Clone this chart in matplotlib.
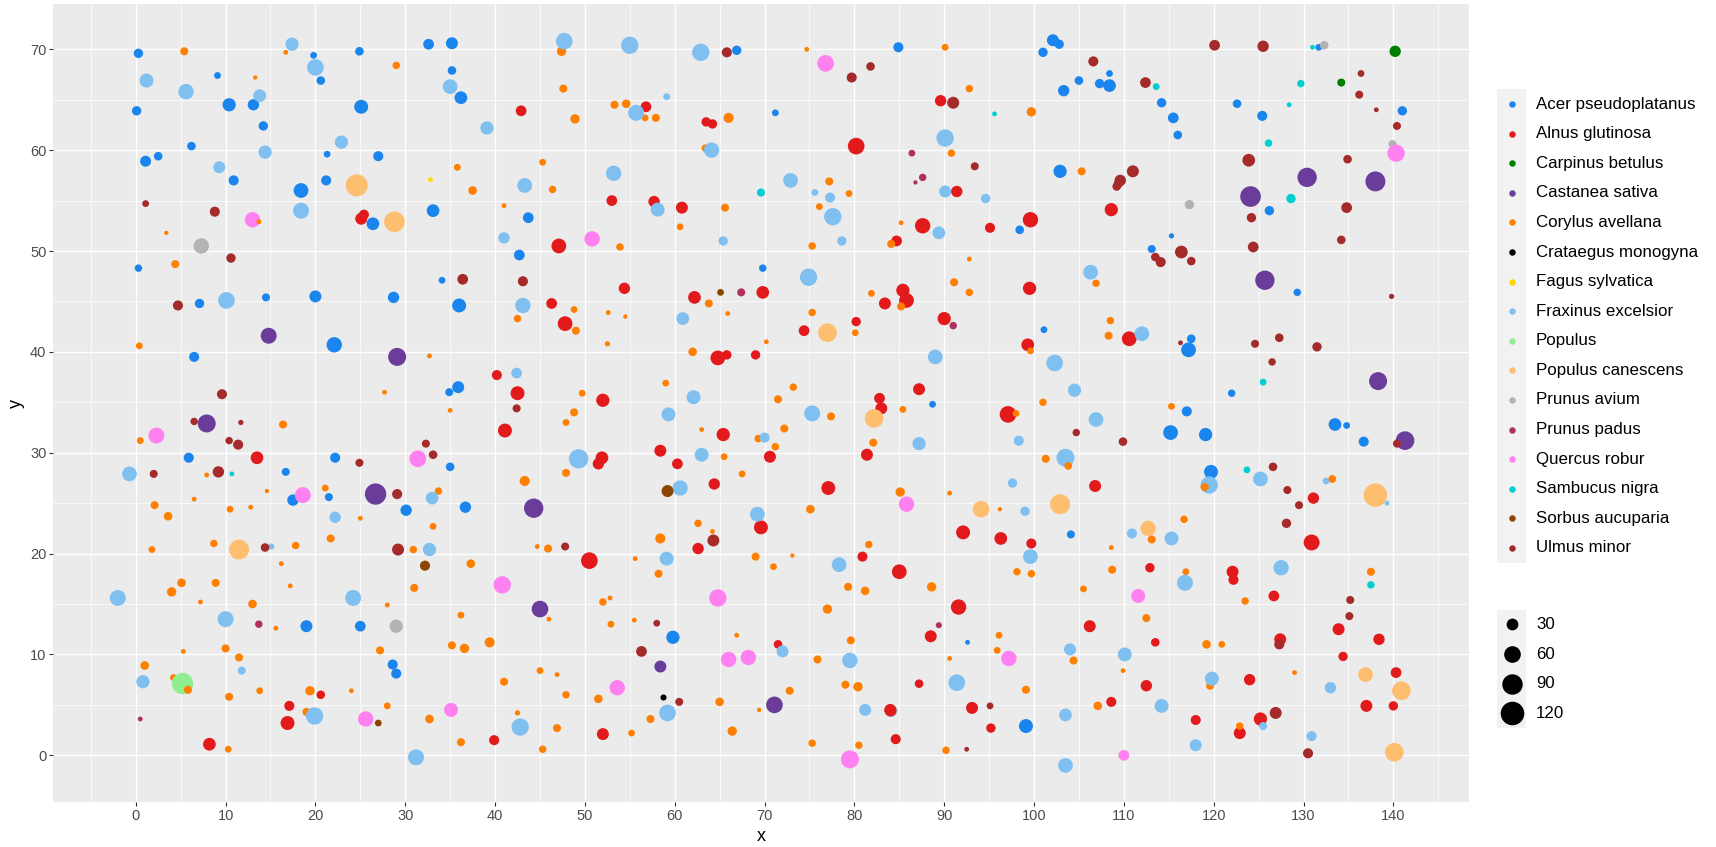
import matplotlib
matplotlib.use("Agg")
import matplotlib.pyplot as plt
from matplotlib.patches import Rectangle
import numpy as np

plt.rcParams['font.family'] = ['Liberation Sans', 'DejaVu Sans']

# each tree is (x, y, dbh)
acer = [(0.3,69.6,19),(9.1,67.4,10),(10.4,64.5,38),(13.1,64.5,28),(14.2,62.4,19),(0.1,63.9,19),(6.2,60.4,16),
        (2.5,59.4,16),(1.1,58.9,26),(10.9,57.0,22),(19.8,69.4,10),(20.6,66.9,16),(24.9,69.8,16),(25.1,64.3,42),
        (32.6,70.5,25),(35.2,70.6,31),(35.2,67.9,16),(36.2,65.2,35),(21.3,59.6,10),(27.0,59.4,22),(21.2,57.0,22),
        (18.4,56.0,47),(33.1,54.0,35),(0.3,48.3,12),(26.4,52.7,35),(42.7,49.6,25),(34.1,47.1,10),(7.1,44.8,19),
        (14.5,45.4,14),(20.0,45.5,31),(28.7,45.4,28),(36.0,44.6,42),(22.1,40.7,51),(6.5,39.5,22),(35.9,36.5,31),
        (34.9,36.0,14),(5.9,29.5,22),(22.2,29.5,22),(16.7,28.1,14),(35.0,28.6,16),(17.5,25.3,28),(21.5,25.6,14),
        (30.1,24.3,28),(36.7,24.6,28),(19.0,12.8,31),(25.0,12.8,25),(28.6,9.0,22),(29.0,8.1,22),(84.9,70.2,22),
        (66.9,69.9,19),(71.2,63.7,10),(43.7,53.3,25),(69.8,48.3,12),(88.7,34.8,10),(59.8,11.7,38),(92.6,11.2,5),
        (102.1,70.9,31),(102.8,70.5,19),(101.0,69.7,19),(108.4,67.6,10),(105.0,66.9,16),(107.3,66.6,19),
        (108.4,66.4,35),(103.3,65.9,28),(114.2,64.7,19),(115.5,63.2,25),(116.0,61.5,16),(122.6,64.6,16),
        (125.4,63.4,22),(131.7,70.2,10),(141.0,63.9,19),(102.9,57.9,38),(126.2,54.0,19),(98.4,52.1,16),
        (115.3,51.5,6),(113.1,50.2,14),(129.3,45.9,12),(101.1,42.2,10),(117.5,41.3,16),(117.2,40.2,47),
        (122.0,35.9,12),(117.0,34.1,22),(115.2,32.0,47),(119.1,31.8,38),(133.5,32.8,35),(134.8,32.7,10),
        (136.7,31.1,22),(119.7,28.1,42),(104.1,21.9,14),(99.1,2.9,42)]

alnus = [(25.1,53.2,31),(25.4,53.6,22),(42.9,63.9,25),(47.1,50.5,47),(56.8,64.3,25),(63.5,62.8,19),(64.2,62.6,19),
         (80.2,60.4,60),(89.6,64.9,28),(53.0,55.0,25),(57.7,54.9,28),(60.8,54.3,31),(91.4,55.9,28),(87.6,52.5,51),
         (84.7,51.0,25),(95.1,52.3,22),(99.6,53.1,51),(108.6,54.1,38),(54.4,46.3,28),(46.3,44.8,25),(47.8,42.8,47),
         (62.2,45.4,35),(69.8,45.9,35),(85.4,46.1,38),(85.8,45.1,47),(83.4,44.8,31),(90.0,43.3,38),(80.2,43.0,19),
         (74.4,42.1,25),(64.8,39.4,47),(65.8,39.7,19),(69.0,39.7,19),(52.0,35.2,38),(87.2,36.3,31),(82.8,35.4,25),
         (83.0,34.4,31),(65.4,31.8,38),(58.4,30.2,31),(60.3,28.9,25),(51.9,29.5,35),(51.5,28.9,28),(70.6,29.6,31),
         (81.4,29.8,31),(64.4,26.9,28),(77.1,26.5,42),(69.6,22.6,42),(92.1,22.1,42),(62.6,20.5,28),(41.1,32.2,42),
         (42.5,35.9,42),(40.2,37.7,22),(50.5,19.3,60),(80.9,19.7,22),(85.0,18.2,47),(91.6,14.7,51),(88.5,11.8,31),
         (71.5,11.0,16),(87.2,7.1,16),(93.1,4.7,31),(84.0,4.5,31),(84.6,1.6,22),(52.0,2.1,31),(99.5,46.3,38),
         (99.3,40.7,35),(110.6,41.3,47),(97.1,33.8,60),(106.8,26.7,31),(131.1,25.5,28),(96.3,21.5,35),(99.7,21.0,22),
         (130.9,21.1,55),(112.9,18.6,19),(122.1,18.2,31),(122.2,17.4,22),(126.7,15.8,25),(106.2,12.8,31),
         (113.5,11.2,16),(127.4,11.5,31),(133.9,12.5,31),(138.4,11.5,28),(134.4,9.8,19),(140.3,8.2,25),(124.0,7.5,28),
         (112.5,6.9,28),(108.6,5.3,22),(137.0,4.9,31),(140.0,4.9,19),(125.2,3.6,38),(122.9,2.2,31),(118.0,3.5,22),
         (95.2,2.7,19),(8.2,1.1,35),(16.9,3.2,42),(17.1,4.9,22),(20.6,6.0,16),(39.9,1.5,22),(13.5,29.5,35)]

carpinus = [(140.2,69.8,28),(134.2,66.7,14)]

castanea = [(14.8,41.6,55),(29.1,39.5,70),(7.9,32.9,70),(26.7,25.9,98),(44.3,24.5,81),(45.0,14.5,60),(58.4,8.8,31),
            (71.1,5.0,60),(124.1,55.4,92),(130.4,57.3,81),(138.0,56.9,86),(125.7,47.1,81),(138.3,37.1,70),(141.3,31.2,75)]

corylus = [(5.4,69.8,14),(16.7,69.7,5),(13.3,67.2,4),(29.0,68.4,12),(35.8,58.3,10),(37.5,56.0,16),(41.0,54.5,5),
           (3.4,51.8,4),(4.4,48.7,14),(47.4,69.8,19),(47.6,66.1,14),(48.9,63.1,19),(45.3,58.8,10),(46.4,56.1,12),
           (53.3,64.5,14),(54.6,64.6,16),(56.7,63.2,10),(57.9,63.2,14),(66.0,63.2,22),(63.4,60.2,12),(53.9,50.4,12),
           (60.6,52.4,10),(65.6,54.3,14),(74.7,70.0,5),(90.1,70.2,10),(92.8,66.1,12),(90.8,59.7,12),(77.2,56.9,14),
           (79.4,55.7,10),(76.1,54.4,10),(75.3,50.5,12),(85.2,52.8,5),(84.1,50.7,14),(92.8,49.2,5),(91.1,46.9,14),
           (99.7,63.8,19),(105.3,57.9,14),(48.8,44.2,10),(42.5,43.3,12),(49.0,42.1,14),(52.6,43.9,5),(54.5,43.5,4),
           (52.5,40.8,6),(63.8,44.8,14),(65.9,43.8,5),(75.3,43.9,12),(81.9,45.8,10),(85.2,44.5,14),(92.8,45.9,12),
           (80.1,41.9,10),(70.2,41.0,5),(62.0,40.0,16),(59.0,36.9,10),(49.7,35.9,10),(48.8,34.0,14),(47.9,33.0,10),
           (73.2,36.5,12),(71.5,35.3,14),(77.4,33.6,14),(63.0,32.3,5),(72.2,32.4,14),(69.3,31.4,12),(71.2,30.6,12),
           (65.5,29.6,10),(85.4,34.3,10),(82.1,31.0,14),(47.9,28.0,14),(43.3,27.2,22),(67.5,27.9,10),(85.1,26.1,19),
           (90.6,26.0,5),(75.1,24.4,16),(62.6,23.0,12),(64.2,22.2,5),(58.4,21.5,22),(44.7,20.7,5),(45.9,20.5,14),
           (81.6,20.9,12),(55.6,19.5,5),(69.0,19.7,14),(71.0,18.7,10),(73.1,19.8,4),(58.2,18.0,14),(79.3,16.7,14),
           (81.2,16.3,16),(88.6,16.7,19),(52.0,15.2,12),(52.8,15.6,5),(77.0,14.5,19),(46.0,13.5,5),(52.9,13.0,10),
           (55.5,13.4,5),(79.6,11.4,14),(66.9,11.9,5),(75.9,9.5,14),(90.6,9.6,5),(45.0,8.4,10),(46.9,8.0,5),
           (47.9,6.0,12),(51.5,5.6,16),(72.8,6.4,14),(79.0,7.0,14),(80.4,6.8,19),(65.0,5.3,16),(69.4,4.5,4),
           (42.5,4.2,6),(57.3,3.6,14),(46.9,2.7,14),(55.2,2.2,10),(66.4,2.4,19),(45.3,0.6,12),(75.3,1.2,12),
           (80.5,1.0,12),(90.2,0.5,12),(106.9,46.8,12),(108.5,43.1,12),(108.3,41.6,14),(99.6,40.1,10),(101.0,35.0,12),
           (98.0,33.9,10),(115.3,34.6,10),(101.3,29.4,14),(103.8,28.7,12),(119.0,26.6,14),(133.2,27.4,12),(96.2,24.4,4),
           (116.7,23.4,12),(113.1,21.4,14),(108.6,20.6,5),(98.1,18.2,12),(99.7,18.0,12),(108.7,18.4,14),(116.9,18.2,10),
           (105.5,16.5,10),(123.5,15.3,12),(137.5,18.2,14),(112.5,13.6,14),(119.2,11.0,16),(120.9,11.0,10),(96.1,11.9,10),
           (95.9,10.4,10),(104.4,9.4,14),(109.9,8.4,5),(129.0,8.2,5),(119.6,6.9,14),(99.1,6.5,14),(107.1,4.9,16),
           (122.9,2.9,12),(0.4,40.6,10),(16.4,32.8,14),(27.7,36.0,5),(32.7,39.6,5),(35.0,34.2,5),(0.5,31.2,10),
           (7.9,27.8,5),(21.1,26.5,10),(14.6,26.2,4),(6.5,25.4,5),(2.1,24.8,14),(3.6,23.7,16),(10.5,24.4,10),
           (12.8,24.6,5),(25.0,23.5,5),(33.7,26.2,12),(33.1,22.7,10),(8.7,21.0,12),(17.8,20.8,12),(21.7,21.5,14),
           (1.8,20.4,10),(30.9,20.4,12),(16.2,19.0,5),(37.3,19.0,16),(5.1,17.1,16),(4.0,16.2,19),(8.9,17.1,14),
           (17.2,16.8,5),(7.2,15.2,5),(13.0,15.0,16),(31.0,16.6,14),(28.0,14.9,5),(36.2,13.9,10),(15.6,12.6,5),
           (5.3,10.3,5),(10.0,10.6,14),(11.5,9.7,14),(27.2,10.4,14),(35.2,10.9,14),(36.6,10.6,19),(39.4,11.2,22),
           (1.0,8.9,16),(4.2,7.7,10),(5.8,6.5,14),(13.8,6.4,10),(10.4,5.8,14),(19.4,6.4,19),(24.0,6.4,5),(28.0,4.9,10),
           (41.0,7.3,14),(19.0,4.3,14),(32.7,3.6,16),(36.2,1.3,14),(10.3,0.6,10),(13.7,52.9,5)]

crataegus = [(58.7,5.8,8)]
fagus = [(32.8,57.1,5)]

fraxinus = [(17.4,70.5,38),(20.0,68.2,60),(1.2,66.9,42),(5.6,65.8,51),(13.8,65.4,35),(35.0,66.3,47),(39.1,62.2,38),
            (22.9,60.8,38),(14.4,59.8,38),(9.3,58.3,31),(18.4,54.0,55),(41.0,51.3,28),(43.3,56.5,47),(47.7,70.8,60),
            (55.0,70.4,65),(62.9,69.7,65),(55.7,63.7,55),(59.1,65.3,10),(64.1,60.0,51),(53.2,57.7,51),(58.1,54.1,42),
            (65.4,51.0,19),(72.9,57.0,47),(75.6,55.8,10),(77.3,55.3,22),(77.6,53.4,65),(78.6,51.0,19),(90.1,61.2,65),
            (90.1,55.9,31),(89.4,51.8,35),(94.6,55.2,19),(74.9,47.4,65),(10.1,45.1,60),(-0.7,27.9,47),(43.1,44.6,51),
            (42.4,37.9,25),(33.0,25.5,35),(22.2,23.6,28),(15.1,20.7,8),(60.9,43.3,35),(62.1,35.5,42),(59.3,33.8,42),
            (63.0,29.8,42),(49.3,29.4,81),(60.6,26.5,51),(70.0,31.5,22),(75.3,33.9,55),(89.0,39.5,47),(87.2,30.9,38),
            (69.2,23.9,47),(59.1,19.5,42),(78.3,18.9,47),(72.0,10.3,31),(79.5,9.4,51),(91.4,7.2,60),(81.2,4.5,31),
            (84.1,4.4,31),(59.2,4.2,60),(42.8,2.8,65),(106.3,47.9,47),(112.0,41.8,47),(102.3,38.9,60),(104.5,36.2,38),
            (106.9,33.3,47),(98.3,31.2,22),(103.5,29.5,70),(119.5,26.8,65),(125.2,27.4,47),(132.5,27.2,10),(97.6,27.0,19),
            (99.0,24.2,19),(139.3,25.0,5),(110.9,22.0,22),(115.3,21.5,42),(99.6,19.7,47),(116.8,17.1,55),(127.5,18.6,51),
            (104.0,10.5,31),(110.1,10.0,42),(119.8,7.6,42),(133.0,6.7,28),(114.2,4.9,42),(103.5,4.0,35),(118.0,1.0,31),
            (125.5,2.9,14),(130.9,1.9,22),(103.5,-1.0,47),(-2.0,15.6,55),(24.2,15.6,55),(10.0,13.5,55),(32.7,20.4,38),
            (11.8,8.4,14),(0.8,7.3,38),(19.9,3.9,65),(31.2,-0.2,55)]

populus = [(5.2,7.2,98)]

canescens = [(24.6,56.5,105),(28.8,52.9,92),(11.5,20.4,86),(77.0,41.9,75),(82.2,33.4,75),(94.1,24.4,60),(102.9,24.9,86),
             (112.7,22.5,51),(138.0,25.8,118),(136.9,8.0,47),(140.9,6.4,75),(140.1,0.3,75)]

avium = [(7.3,50.5,51),(29.0,12.8,38),(117.3,54.6,19),(132.3,70.4,16),(139.9,60.6,14)]

padus = [(13.7,13.0,12),(0.5,3.6,5),(86.4,59.7,10),(87.6,57.3,12),(86.8,56.8,4),(67.4,45.9,14),(91.0,42.6,12),(89.4,12.9,8)]

quercus = [(13.0,53.1,51),(2.3,31.7,55),(31.4,29.4,60),(18.6,25.8,55),(40.8,16.9,65),(25.6,3.6,51),(35.1,4.5,42),
           (50.8,51.2,51),(76.8,68.6,60),(85.8,24.9,51),(64.8,15.6,65),(66.0,9.5,51),(68.2,9.7,51),(53.6,6.7,51),
           (79.5,-0.4,70),(140.3,59.7,65),(111.6,15.8,42),(97.2,9.6,51),(110.0,0.0,25)]

sambucus = [(10.7,27.9,5),(69.6,55.8,14),(95.6,63.6,5),(113.6,66.3,10),(129.7,66.6,12),(131.0,70.2,5),(128.4,64.5,5),
            (126.1,60.7,12),(128.6,55.2,19),(125.5,37.0,10),(123.7,28.3,10),(137.5,16.9,12)]

sorbus = [(65.1,45.9,10),(59.2,26.2,31),(32.2,18.8,22),(27.0,3.2,10)]

ulmus = [(1.1,54.7,10),(8.8,53.9,22),(10.6,49.3,19),(36.4,47.2,25),(4.7,44.6,22),(9.6,35.8,22),(6.5,33.1,12),(11.7,33.0,6),
         (10.4,31.2,12),(11.4,30.8,22),(24.9,29.0,14),(32.3,30.9,14),(33.1,29.8,16),(29.1,25.9,22),(2.0,27.9,14),(9.2,28.1,28),
         (42.4,34.4,14),(14.4,20.6,16),(29.2,20.4,31),(65.8,69.7,22),(79.7,67.2,22),(81.8,68.3,16),(91.0,64.7,31),(93.4,58.4,14),
         (43.1,47.0,22),(64.3,21.3,31),(47.8,20.7,14),(56.3,10.3,25),(58.0,13.1,10),(60.5,5.3,14),(92.5,0.6,5),(106.6,68.8,22),
         (112.4,66.7,25),(120.1,70.4,25),(125.5,70.3,28),(136.4,67.6,10),(136.2,65.5,14),(138.1,64.0,5),(140.4,62.4,14),
         (134.9,59.1,16),(123.9,59.0,35),(111.0,57.9,31),(109.6,57.0,28),(109.4,56.7,19),(109.2,56.4,16),(134.8,54.3,25),
         (124.2,53.3,19),(134.2,51.1,16),(124.4,50.4,25),(116.4,49.9,35),(113.5,49.4,16),(114.1,48.9,22),(117.5,49.0,16),
         (139.8,45.5,6),(127.3,41.4,16),(124.6,40.8,14),(131.5,40.5,19),(116.3,40.9,5),(126.5,39.0,12),(104.7,32.0,12),
         (109.9,31.1,16),(140.4,30.9,14),(126.6,28.6,16),(128.2,26.3,14),(129.5,24.8,14),(128.1,23.0,19),(135.2,15.4,14),
         (135.1,13.8,14),(127.3,11.0,22),(126.9,4.2,31),(130.5,0.2,22),(95.1,4.9,10)]

species = ["Acer pseudoplatanus", "Alnus glutinosa", "Carpinus betulus", "Castanea sativa", "Corylus avellana",
           "Crataegus monogyna", "Fagus sylvatica", "Fraxinus excelsior", "Populus", "Populus canescens",
           "Prunus avium", "Prunus padus", "Quercus robur", "Sambucus nigra", "Sorbus aucuparia", "Ulmus minor"]
trees = [acer, alnus, carpinus, castanea, corylus, crataegus, fagus, fraxinus, populus, canescens,
         avium, padus, quercus, sambucus, sorbus, ulmus]
colors = ["#1a85ed", "#e31a1c", "#008000", "#6a3d9a", "#ff7f00", "#000000", "#ffd700", "#80c0f0",
          "#90ee90", "#fdbf6f", "#b3b3b3", "#b03060", "#ff80f0", "#00ced1", "#8b4500", "#a52a2a"]
size_breaks = [30, 60, 90, 120]
x_ticks = list(range(0, 150, 10))
y_ticks = list(range(0, 80, 10))

# these trees lie on top of a neighbour in the original, so they go again at the end
on_top_alnus = [(84.0,4.5,31)]
on_top_corylus = [(5.8,6.5,14),(13.7,52.9,5),(119.0,26.6,14),(133.2,27.4,12),(103.8,28.7,12)]


def marker_area(dbh):
    # diameter in pixels grows with sqrt(dbh), scatter wants points^2
    return (2.15 * np.sqrt(dbh) * 0.72) ** 2


W, H = 1716, 847
fig = plt.figure(figsize=(W / 100, H / 100), dpi=100, facecolor="white")
ax = fig.add_axes([53 / W, (H - 802) / H, (1469 - 53) / W, (802 - 4) / H])
ax.set_facecolor("#ebebeb")
ax.set_xlim(-9.21, 148.42)
ax.set_ylim(-4.63, 74.49)
for s in ax.spines.values():
    s.set_visible(False)

ax.set_xticks(x_ticks)
ax.set_yticks(y_ticks)
ax.set_xticks(np.arange(-5, 150, 10), minor=True)
ax.set_yticks(np.arange(5, 75, 10), minor=True)
ax.grid(which="major", color="white", lw=1.0)
ax.grid(which="minor", color="white", lw=0.5)
ax.set_axisbelow(True)
ax.tick_params(which="major", length=2.7, width=0.8, color="#333333", labelcolor="#4d4d4d", labelsize=10.5, pad=2)
ax.tick_params(which="minor", length=0)
ax.set_xlabel("x", fontsize=13, labelpad=4)
ax.set_ylabel("y", fontsize=13, labelpad=4)

for rows, c in zip(trees, colors):
    d = np.array(rows)
    ax.scatter(d[:, 0], d[:, 1], s=marker_area(d[:, 2]), color=c, linewidths=0, zorder=3)
for rows, c in [(on_top_alnus, colors[1]), (on_top_corylus, colors[4])]:
    d = np.array(rows)
    ax.scatter(d[:, 0], d[:, 1], s=marker_area(d[:, 2]), color=c, linewidths=0, zorder=4)

# legends sit on an overlay in pixel coordinates
lg = fig.add_axes([0, 0, 1, 1], facecolor="none")
lg.set_xlim(0, W)
lg.set_ylim(H, 0)
lg.axis("off")

lg.add_patch(Rectangle((1497, 89), 29, 474, facecolor="#f2f2f2", edgecolor="none"))
for i, (name, c) in enumerate(zip(species, colors)):
    yy = 104 + i * 29.6
    lg.scatter([1511.5], [yy], s=marker_area(9), color=c, linewidths=0)
    lg.text(1536, yy, name, fontsize=12.2, color="black", va="center", ha="left")

lg.add_patch(Rectangle((1497, 610), 29, 118, facecolor="#f2f2f2", edgecolor="none"))
for i, b in enumerate(size_breaks):
    yy = 624.5 + i * 29.6
    lg.scatter([1511.5], [yy], s=marker_area(b), color="black", linewidths=0)
    lg.text(1536, yy, str(b), fontsize=12.2, color="black", va="center", ha="left")

fig.savefig("out.png", dpi=100)
